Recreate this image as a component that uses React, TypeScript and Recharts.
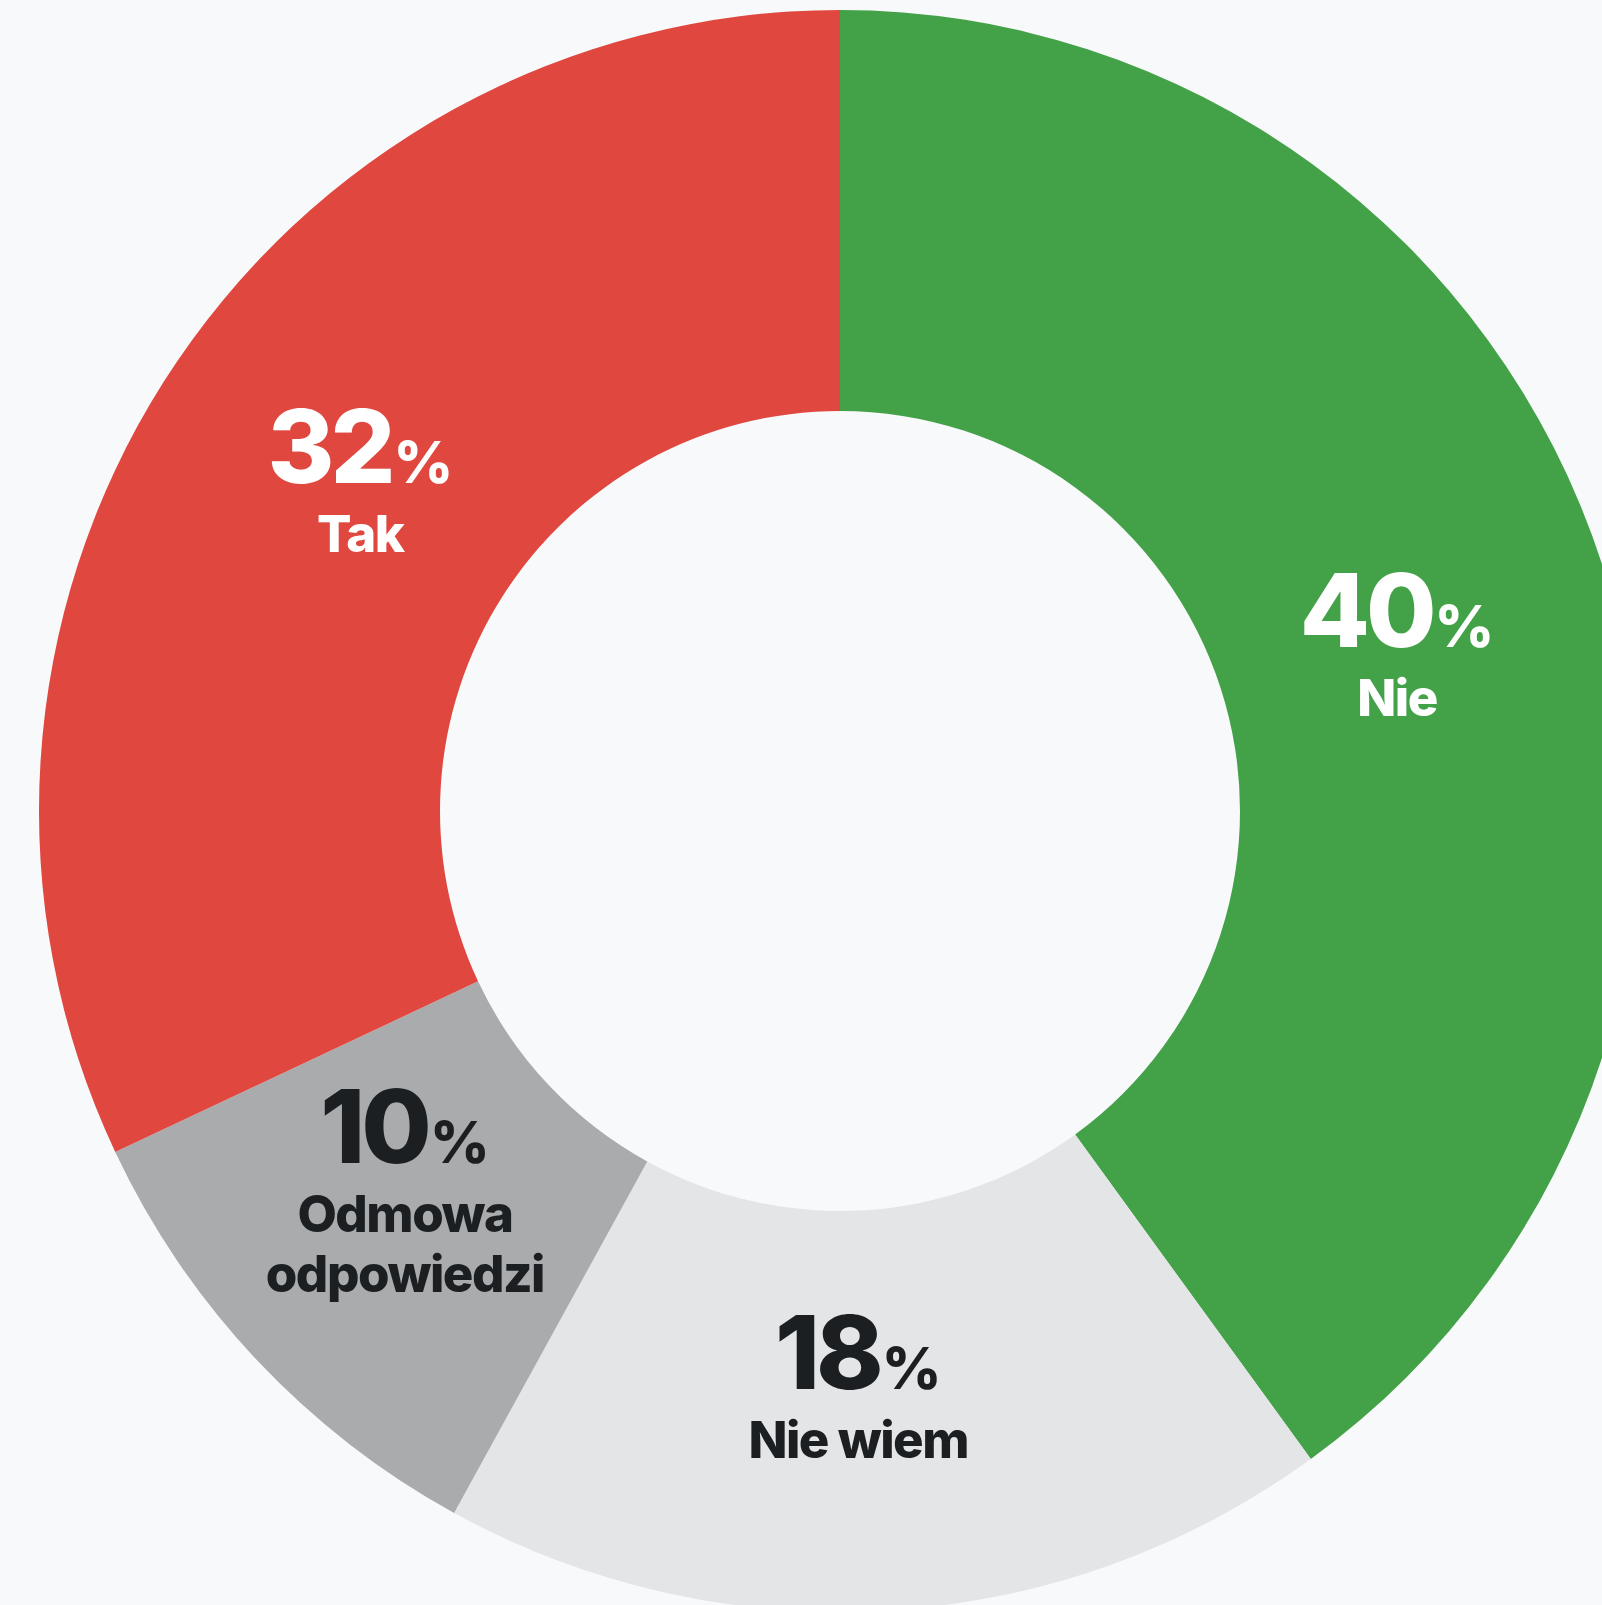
import React from "react";
import { PieChart, Pie, Cell } from "recharts";

const categories = ["Nie", "Nie wiem", "Odmowa odpowiedzi", "Tak"];
const labelLines = [["Nie"], ["Nie wiem"], ["Odmowa", "odpowiedzi"], ["Tak"]];
const values = [40, 18, 10, 32];
const colors = ["#43a248", "#e4e5e7", "#aaabad", "#df473f"];
const textColors = ["#ffffff", "#1b1f22", "#1b1f22", "#ffffff"];

const data = categories.map((name, i) => ({ name, value: values[i], idx: i }));

const RAD = Math.PI / 180;
const FONT = "Inter, 'Noto Sans', sans-serif";

const renderLabel = (props: any) => {
  const { cx, cy, midAngle, index } = props;
  const r = 580;
  const a = (midAngle - 1.8) * RAD;
  const x = cx + r * Math.cos(-a);
  const y = cy + r * Math.sin(-a);
  const lines = labelLines[index];
  const n = lines.length;
  const base = y - 2 - 30 * (n - 1);
  const fill = textColors[index];
  return (
    <g>
      <text
        x={x}
        y={base}
        textAnchor="middle"
        fill={fill}
        fontFamily={FONT}
        fontWeight={800}
      >
        <tspan fontSize={102} letterSpacing={-4}>{values[index]}</tspan>
        <tspan fontSize={58} dx={2}>%</tspan>
      </text>
      {lines.map((ln, j) => (
        <text
          key={j}
          x={x}
          y={base + 69 + j * 60}
          textAnchor="middle"
          fill={fill}
          fontFamily={FONT}
          fontWeight={800}
          fontSize={51}
          letterSpacing={-1.5}
        >
          {ln}
        </text>
      ))}
    </g>
  );
};

export default function App() {
  return (
    <div
      style={{
        position: "absolute",
        left: 0,
        top: 0,
        width: 1602,
        height: 1605,
        background: "#f8f9fa",
        overflow: "hidden",
      }}
    >
      <PieChart width={1602} height={1605} margin={{ top: 0, right: 0, bottom: 0, left: 0 }}>
        <Pie
          data={data}
          dataKey="value"
          nameKey="name"
          cx={840}
          cy={811}
          innerRadius={400}
          outerRadius={801}
          startAngle={90}
          endAngle={-270}
          stroke="none"
          labelLine={false}
          label={renderLabel}
          isAnimationActive={false}
        >
          {data.map((d, i) => (
            <Cell key={d.name} fill={colors[i]} />
          ))}
        </Pie>
      </PieChart>
    </div>
  );
}
